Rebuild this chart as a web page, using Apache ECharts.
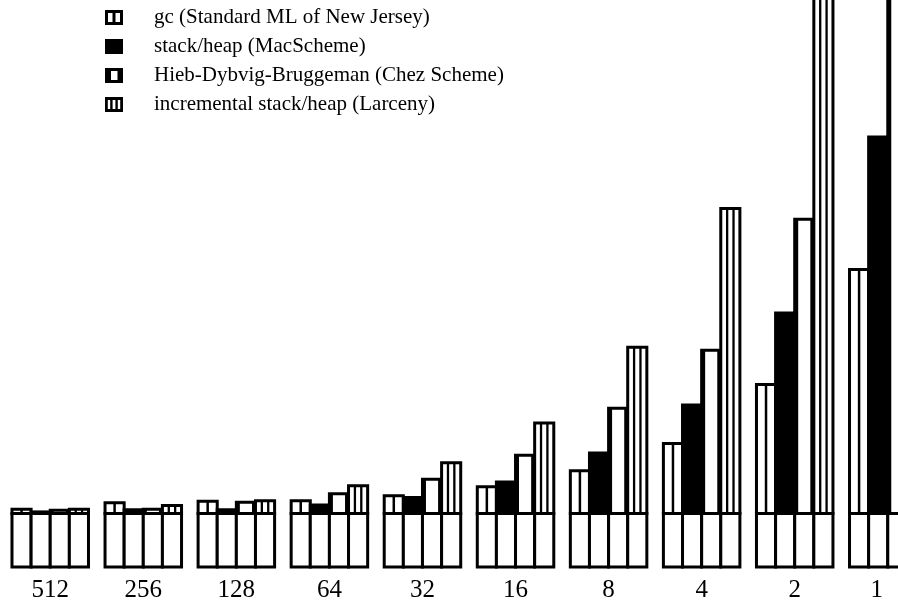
<!DOCTYPE html>
<html>
<head>
<meta charset="utf-8">
<script src="https://cdn.jsdelivr.net/npm/echarts@6/dist/echarts.min.js"></script>
<style>
html,body{margin:0;padding:0;background:#fff;}
#chart{width:898px;height:605px;}
</style>
</head>
<body>
<div id="chart"></div>
<script>
// Category labels (x axis)
const categories = ['512', '256', '128', '64', '32', '16', '8', '4', '2', '1'];
// Series names
const seriesNames = [
  'gc (Standard ML of New Jersey)',
  'stack/heap (MacScheme)',
  'Hieb-Dybvig-Bruggeman (Chez Scheme)',
  'incremental stack/heap (Larceny)'
];
// Common base part of every bar
const baseValue = 1.0;
// Totals per series (base + own part)
const gcValues  = [1.08, 1.20, 1.23, 1.24, 1.33, 1.50, 1.80, 2.31, 3.41, 5.56];
const shValues  = [1.03, 1.07, 1.07, 1.16, 1.30, 1.59, 2.13, 3.03, 4.75, 8.04];
const hdbValues = [1.06, 1.08, 1.21, 1.37, 1.64, 2.09, 2.97, 4.05, 6.50, 12.0];
const larValues = [1.08, 1.15, 1.24, 1.52, 1.95, 2.69, 4.11, 6.70, 11.5, 20.0];
const allValues = [gcValues, shValues, hdbValues, larValues];

const GAP = 0.178;
const LW = 3;

function renderItem(params, api) {
  const s = params.seriesIndex;
  const cat = api.value(0);
  const total = api.value(1);
  const band = api.size([1, 0])[0];
  const groupW = band * (1 - GAP);
  const bw = groupW / 4;
  const c0 = api.coord([cat, 0]);
  const x0 = c0[0] - groupW / 2 + s * bw;
  const yB = c0[1];
  const yM = api.coord([cat, baseValue])[1];
  const yT = api.coord([cat, total])[1];
  const children = [];
  children.push({
    type: 'rect',
    shape: {x: x0, y: yM, width: bw, height: yB - yM},
    style: {fill: '#fff', stroke: '#000', lineWidth: LW}
  });
  const fill = s === 1 ? '#000' : '#fff';
  children.push({
    type: 'rect',
    shape: {x: x0, y: yT, width: bw, height: yM - yT},
    style: {fill: fill, stroke: '#000', lineWidth: LW}
  });
  if (s === 0) {
    children.push({type: 'line', shape: {x1: x0 + bw / 2, y1: yT, x2: x0 + bw / 2, y2: yM},
      style: {stroke: '#000', lineWidth: 2.5}});
  } else if (s === 3) {
    [1 / 3, 2 / 3].forEach(f => {
      children.push({type: 'line', shape: {x1: x0 + bw * f, y1: yT, x2: x0 + bw * f, y2: yM},
        style: {stroke: '#000', lineWidth: 2.3}});
    });
  } else if (s === 2) {
    children.push({type: 'rect', shape: {x: x0, y: yT, width: 3.5, height: yM - yT},
      style: {fill: '#000'}});
    children.push({type: 'rect', shape: {x: x0 + bw - 3.5, y: yT, width: 3.5, height: yM - yT},
      style: {fill: '#000'}});
  }
  return {type: 'group', children: children};
}

const icons = [
  'path://M0,0H18V3H0Z M0,12H18V15H0Z M0,0H3V15H0Z M15,0H18V15H15Z M7.5,0H10.5V15H7.5Z',
  'path://M0,0H18V15H0Z',
  'path://M0,0H18V3H0Z M0,12H18V15H0Z M0,0H6V15H0Z M12.5,0H18V15H12.5Z',
  'path://M0,0H18V3H0Z M0,12H18V15H0Z M0,0H2.8V15H0Z M5.2,0H7.6V15H5.2Z M10.4,0H12.8V15H10.4Z M15.2,0H18V15H15.2Z'
];

const chart = echarts.init(document.getElementById('chart'));
chart.setOption({
  animation: false,
  backgroundColor: '#fff',
  grid: {left: 3.7, top: 0, bottom: 38, width: 930.6, containLabel: false, outerBoundsMode: 'none'},
  legend: {
    orient: 'vertical',
    left: 105,
    top: 3,
    padding: 0,
    itemGap: 0,
    itemWidth: 18,
    itemHeight: 15,
    selectedMode: false,
    itemStyle: {borderWidth: 0},
    textStyle: {
      fontFamily: 'Liberation Serif',
      fontSize: 21,
      color: '#000',
      lineHeight: 29,
      padding: [0, 0, 0, 26]
    },
    data: seriesNames.map((n, i) => ({name: n, icon: icons[i]}))
  },
  xAxis: {
    type: 'category',
    data: categories,
    axisLine: {show: false},
    axisTick: {show: false},
    splitLine: {show: false},
    axisLabel: {
      margin: 11,
      fontFamily: 'Liberation Serif',
      fontSize: 25,
      color: '#000',
      formatter: function (v) { return v === '1' ? '{s|1}' : v; },
      rich: {s: {fontFamily: 'Liberation Serif', fontSize: 25, color: '#000', padding: [0, 22, 0, 0]}}
    }
  },
  yAxis: {
    type: 'value',
    min: 0,
    max: 10.6,
    show: false,
    splitLine: {show: false}
  },
  series: allValues.map((vals, i) => ({
    type: 'custom',
    name: seriesNames[i],
    renderItem: renderItem,
    itemStyle: {color: '#000'},
    encode: {x: 0, y: 1},
    data: vals.map((v, j) => [j, v])
  }))
});
</script>
</body>
</html>
